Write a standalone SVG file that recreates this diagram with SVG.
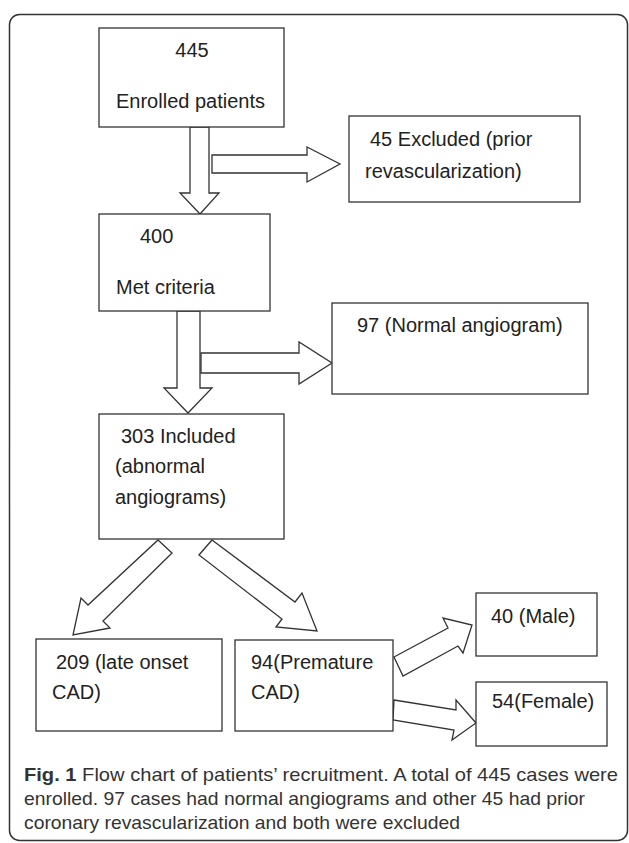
<svg xmlns="http://www.w3.org/2000/svg" width="629" height="843" viewBox="0 0 629 843">
<style>
.box{fill:#fff;stroke:#333;stroke-width:1.3}
.arr{fill:#fff;stroke:#333;stroke-width:1.3;stroke-linejoin:miter}
.t{font-family:"Liberation Sans",Arial,sans-serif;font-size:20px;fill:#222}
.c{font-family:"Liberation Sans",Arial,sans-serif;font-size:19px;fill:#333}
.b{font-weight:bold}
</style>
<rect x="9.5" y="14.5" width="618" height="826" rx="10" ry="10" fill="#fff" stroke="#333" stroke-width="1.5"/>
<g id="connectors">
<polygon class="arr" points="190,127 209,127 209,193 219,193 200,214 180,193 190,193"/>
<polygon class="arr" points="212,155 307,155 307,147 340,164 307,182 307,173 212,173"/>
<polygon class="arr" points="177,311 200,311 200,388 212,388 188,413 164,388 177,388"/>
<polygon class="arr" points="201,353 299,353 299,342 332,363 299,384 299,373 201,373"/>
<polygon class="arr" points="158,540 172,553 103,621 110,628 73,635 81,598 88,605"/>
<polygon class="arr" points="212,540 295,602 302,593 317,631 276,627 282,619 199,555"/>
<polygon class="arr" points="394,657 448,628 443,618 472,625 463,653 458,646 403,676"/>
<polygon class="arr" points="394,700 456,710 456,700 476,723 452,740 454,730 393,720"/>
</g>
<g id="n445">
<rect class="box" x="99" y="28" width="185" height="99"/>
<text class="t" x="192" y="57" text-anchor="middle">445</text>
<text class="t" x="116" y="108">Enrolled patients</text>
</g>
<g id="n45">
<rect class="box" x="349" y="116" width="231" height="86"/>
<text class="t" x="370" y="146">45 Excluded (prior</text>
<text class="t" x="365" y="178">revascularization)</text>
</g>
<g id="n400">
<rect class="box" x="99" y="214" width="171" height="97"/>
<text class="t" x="140" y="243">400</text>
<text class="t" x="116" y="294">Met criteria</text>
</g>
<g id="n97">
<rect class="box" x="332" y="303" width="256" height="91"/>
<text class="t" x="357" y="332">97 (Normal angiogram)</text>
</g>
<g id="n303">
<rect class="box" x="99" y="414" width="185" height="125"/>
<text class="t" x="121" y="443">303 Included</text>
<text class="t" x="115" y="473">(abnormal</text>
<text class="t" x="115" y="504">angiograms)</text>
</g>
<g id="n209">
<rect class="box" x="36" y="639" width="186" height="92"/>
<text class="t" x="56" y="669">209 (late onset</text>
<text class="t" x="52" y="699">CAD)</text>
</g>
<g id="n94">
<rect class="box" x="235" y="640" width="158" height="91"/>
<text class="t" x="251" y="669">94(Premature</text>
<text class="t" x="251" y="699">CAD)</text>
</g>
<g id="n40">
<rect class="box" x="476" y="593" width="121" height="63"/>
<text class="t" x="491" y="623">40 (Male)</text>
</g>
<g id="n54">
<rect class="box" x="476" y="682" width="131" height="64"/>
<text class="t" x="492" y="708">54(Female)</text>
</g>
<g id="caption">
<text class="c" x="24" y="781" textLength="594" lengthAdjust="spacingAndGlyphs"><tspan class="b">Fig. 1</tspan> Flow chart of patients’ recruitment. A total of 445 cases were</text>
<text class="c" x="24" y="805" textLength="561" lengthAdjust="spacingAndGlyphs">enrolled. 97 cases had normal angiograms and other 45 had prior</text>
<text class="c" x="24" y="829" textLength="436" lengthAdjust="spacingAndGlyphs">coronary revascularization and both were excluded</text>
</g>
</svg>
